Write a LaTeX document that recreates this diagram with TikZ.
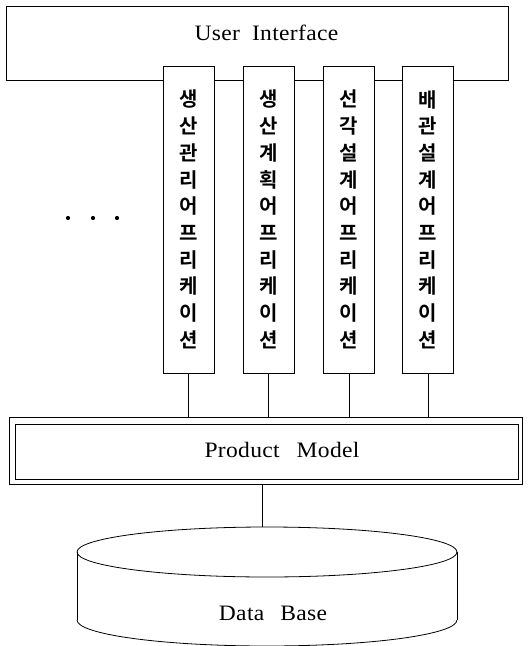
\documentclass[tikz,border=0pt]{standalone}
\usepackage{fontspec}
\setmainfont{Liberation Serif}
\newfontfamily\lbl[FakeStretch=1.07,LetterSpace=1.5]{Liberation Serif}
\newfontfamily\kr{Noto Sans CJK KR}[BoldFont={* Bold}]
\usetikzlibrary{calc}
\begin{document}
\begin{tikzpicture}[x=1pt,y=-1pt,line width=0.8pt,
  boxstyle/.style={draw,rectangle,inner sep=0pt},
  appbox/.style={draw,fill=white,rectangle,inner sep=0pt,minimum width=51pt,minimum height=307pt,
    align=center,font=\kr\bfseries\fontsize{20}{26.7}\selectfont},
  lbltext/.style={inner sep=0pt,anchor=base,font=\lbl\fontsize{22}{26}\selectfont}]
\useasboundingbox (0,0) rectangle (528,646);
% user interface
\node[boxstyle,minimum width=502pt,minimum height=74pt] (ui) at (257,43) {};
\node[lbltext] (uit) at (266.5,40.5) {User\hspace{12pt}Interface};
% application boxes
\node[appbox] (a1) at (188.5,219.5) {생\\산\\관\\리\\어\\프\\리\\케\\이\\션};
\node[appbox] (a2) at (268.5,219.5) {생\\산\\계\\획\\어\\프\\리\\케\\이\\션};
\node[appbox] (a3) at (349,219.5) {선\\각\\설\\계\\어\\프\\리\\케\\이\\션};
\node[appbox] (a4) at (428,219.5) {배\\관\\설\\계\\어\\프\\리\\케\\이\\션};
% dots
\fill (68,218) circle (2.1);
\fill (93,218) circle (2.1);
\fill (117,218) circle (2.1);
% product model
\node[boxstyle,minimum width=513pt,minimum height=67pt] (pm) at (265.5,450.5) {};
\node[boxstyle,minimum width=503pt,minimum height=55pt] (pmin) at (266.5,451.5) {};
\node[lbltext] (pmt) at (282,457) {Product\hspace{17pt}Model};
\foreach \a in {a1,a2,a3,a4} \draw (\a.south) -- (pm.north -| \a.south);
% data base
\coordinate (dbtop) at (262,527);
\draw (pm.south -| dbtop) -- (dbtop);
\draw (267,552) ellipse [x radius=190,y radius=25];
\draw (77,552) -- (77,620);
\draw (457,552) -- (457,620);
\begin{scope}
\clip (70,620) rectangle (465,660);
\draw (267,620) ellipse [x radius=190,y radius=26];
\end{scope}
\node[lbltext] (dbt) at (273,620) {Data\hspace{16pt}Base};
\end{tikzpicture}
\end{document}
